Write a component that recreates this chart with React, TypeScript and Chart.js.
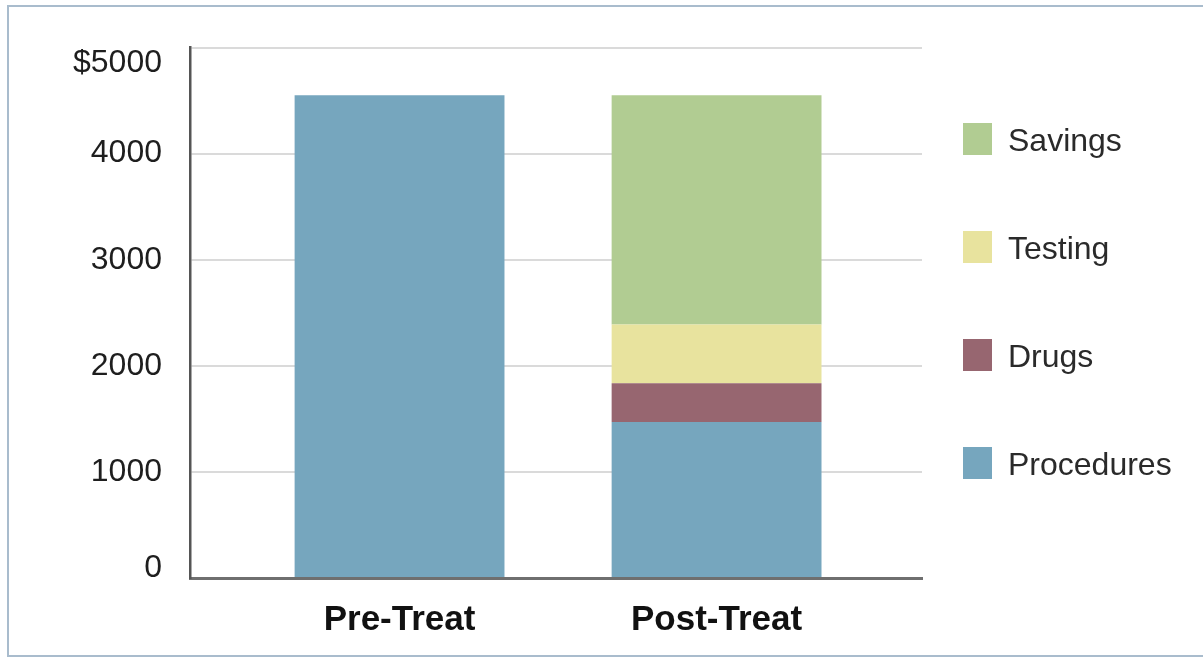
import React, { useEffect, useRef } from 'react';
import { Chart, registerables } from 'chart.js';

Chart.register(...registerables);

const categories = ['Pre-Treat', 'Post-Treat'];
const seriesNames = ['Procedures', 'Drugs', 'Testing', 'Savings'];
const procedures = [4550, 1470];
const drugs = [null, 365];
const testing = [null, 555];
const savings = [null, 2160];
const seriesColors = ['#76a6be', '#976670', '#e8e39e', '#b1cc92'];
const yTickValues = [0, 1000, 2000, 3000, 4000, 5000];
const yTickLabels = ['0', '1000', '2000', '3000', '4000', '$5000'];

const FAMILY = '"Liberation Sans", Arial, Helvetica, sans-serif';

const LEGEND_X = 963;
const LEGEND_TOP = 139;
const LEGEND_STEP = 108;

const sideLegend = {
  id: 'sideLegend',
  afterDraw(chart: any) {
    const ctx = chart.ctx;
    const ds = chart.data.datasets;
    ctx.save();
    ctx.font = `32px ${FAMILY}`;
    ctx.textBaseline = 'middle';
    ctx.textAlign = 'left';
    const order = ds.map((_: any, i: number) => i).reverse();
    order.forEach((di: number, row: number) => {
      const cy = LEGEND_TOP + row * LEGEND_STEP;
      ctx.fillStyle = ds[di].backgroundColor;
      ctx.fillRect(LEGEND_X, cy - 16, 29, 32);
      ctx.fillStyle = '#2a2a2a';
      ctx.fillText(ds[di].label, LEGEND_X + 45, cy + 3);
    });
    ctx.restore();
  },
};

export default function App() {
  const canvasRef = useRef<HTMLCanvasElement | null>(null);

  useEffect(() => {
    const canvas = canvasRef.current;
    if (!canvas) return;
    const seriesValues = [procedures, drugs, testing, savings];
    const datasets = seriesNames.map((name, si) => ({
      label: name,
      data: categories.map((_, ci) => ({ x: ci, y: seriesValues[si][ci] })),
      backgroundColor: seriesColors[si],
      borderWidth: 0,
      categoryPercentage: 1,
      barPercentage: 0.662,
    }));

    const chart = new Chart(canvas, {
      type: 'bar',
      data: { datasets },
      plugins: [sideLegend],
      options: {
        animation: false,
        responsive: false,
        devicePixelRatio: 1,
        layout: { padding: { left: 0, top: 47.5, right: 281, bottom: 0 } },
        plugins: {
          legend: { display: false },
          tooltip: { enabled: false },
        },
        scales: {
          x: {
            type: 'linear',
            stacked: true,
            offset: false,
            min: -0.661,
            max: 1.648,
            z: 1,
            afterBuildTicks: (s: any) => {
              s.ticks = categories.map((_, i) => ({ value: i }));
            },
            afterFit: (s: any) => {
              s.height = 79;
            },
            ticks: {
              autoSkip: false,
              maxRotation: 0,
              padding: 21,
              color: '#111111',
              font: { family: FAMILY, size: 35, weight: 'bold' },
              callback: (v: any) => categories[Number(v)] ?? '',
            },
            grid: { offset: false, color: 'rgba(0,0,0,0)', drawTicks: false },
            border: { color: '#6f6f6f', width: 3 },
          },
          y: {
            stacked: true,
            min: 0,
            max: 5000,
            afterBuildTicks: (s: any) => {
              s.ticks = yTickValues.map((v) => ({ value: v }));
            },
            afterFit: (s: any) => {
              s.width = 190;
            },
            ticks: {
              padding: 0,
              color: '#1e1e1e',
              font: (c: any) => ({
                family: FAMILY,
                size: 32,
                lineHeight: c && c.index === 0 ? '20px' : '32px',
              }),
              callback: (v: any) => {
                const i = yTickValues.indexOf(Number(v));
                const label = i >= 0 ? yTickLabels[i] : '';
                if (i === yTickValues.length - 1) return ['', label];
                if (i === 0) return [label, ''];
                return label;
              },
            },
            grid: {
              color: '#dadada',
              lineWidth: 2,
              drawTicks: true,
              tickLength: 28,
              tickColor: 'rgba(0,0,0,0)',
            },
            border: { color: '#555555', width: 2.5 },
          },
        },
      } as any,
    });
    return () => chart.destroy();
  }, []);

  return (
    <div
      style={{
        position: 'fixed',
        left: 0,
        top: 0,
        width: 1203,
        height: 657,
        overflow: 'hidden',
        background: '#ffffff',
      }}
    >
      <div
        style={{
          position: 'absolute',
          left: 7,
          top: 5,
          width: 1210,
          height: 652,
          border: '2px solid #a9bccd',
          boxSizing: 'border-box',
        }}
      />
      <canvas
        ref={canvasRef}
        width={1203}
        height={657}
        style={{ position: 'absolute', left: 0, top: 0, width: 1203, height: 657 }}
      />
    </div>
  );
}
